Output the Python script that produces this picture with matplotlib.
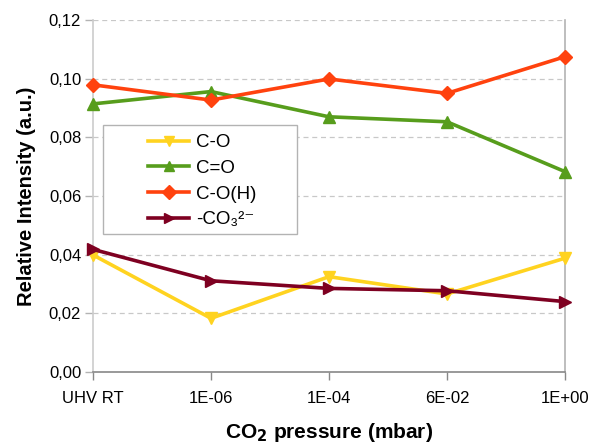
import matplotlib
matplotlib.use("Agg")
import matplotlib.pyplot as plt
from matplotlib.patches import Rectangle

plt.rcParams['font.family'] = ['Liberation Sans', 'DejaVu Sans']

categories = ["UHV RT", "1E-06", "1E-04", "6E-02", "1E+00"]
c_o = [0.0399, 0.0183, 0.0325, 0.0266, 0.0388]
c_double_o = [0.0914, 0.0956, 0.0870, 0.0853, 0.0683]
c_oh = [0.0979, 0.0927, 0.0999, 0.0950, 0.1075]
co3 = [0.0418, 0.0311, 0.0285, 0.0277, 0.0240]
y_ticks = [0.00, 0.02, 0.04, 0.06, 0.08, 0.10, 0.12]

fig = plt.figure(figsize=(5.93, 4.45), dpi=100)
ax = fig.add_axes([93/593, 73/445, 472/593, 352/445])

x = list(range(len(categories)))
lw = 2.6
ax.plot(x, c_o, color='#FFD320', lw=lw, marker='v', ms=9, label='C-O', clip_on=False, zorder=3)
ax.plot(x, c_double_o, color='#579D1C', lw=lw, marker='^', ms=9, label='C=O', clip_on=False, zorder=3)
ax.plot(x, c_oh, color='#FF420E', lw=lw, marker='D', ms=7, label='C-O(H)', clip_on=False, zorder=3)
ax.plot(x, co3, color='#7E0021', lw=lw, marker='>', ms=9, label='-CO\u2083\u00b2\u207b', clip_on=False, zorder=3)

ax.set_xlim(0, len(categories) - 1)
ax.set_ylim(0, 0.12)
ax.set_xticks(x)
ax.set_xticklabels(categories)
ax.set_yticks(y_ticks)
ax.set_yticklabels([f"{v:.2f}".replace('.', ',') for v in y_ticks])
ax.tick_params(axis='both', labelsize=12, colors='#888888', labelcolor='black', length=5.5, width=1, direction='out')
ax.tick_params(axis='x', pad=8)
ax.tick_params(axis='y', colors='#b3b3b3', labelcolor='black', pad=3)

for yv in y_ticks[1:]:
    ax.axhline(yv, color='#c8c8c8', lw=0.9, ls=(0, (4, 3)), zorder=0)

ax.spines['top'].set_visible(False)
ax.spines['left'].set_color('#cccccc')
ax.spines['left'].set_linewidth(1.2)
ax.spines['right'].set_color('#b3b3b3')
ax.spines['right'].set_linewidth(1.2)
ax.spines['bottom'].set_color('#888888')
ax.spines['bottom'].set_linewidth(1.2)

ax.set_ylabel('Relative Intensity (a.u.)', fontsize=14.5, fontweight='bold', labelpad=9)
ax.set_xlabel('CO$_\\mathbf{2}$ pressure (mbar)', fontsize=15, fontweight='bold', labelpad=11)

# legend frame
ax.add_patch(Rectangle((103/593, 1 - 234/445), 194/593, 109/445, transform=fig.transFigure,
                       facecolor='white', edgecolor='#b3b3b3', lw=1.0, zorder=4, clip_on=False))
leg = ax.legend(loc='upper left', bbox_to_anchor=(148/593, 1 - 134/445), bbox_transform=fig.transFigure,
                fontsize=13.5, frameon=False, handlelength=2.2, borderpad=0,
                labelspacing=0.46, handletextpad=0.35, borderaxespad=0)
leg.set_zorder(5)
for h in leg.legend_handles:
    h.set_markersize(7)

fig.savefig('out.png', dpi=100)
